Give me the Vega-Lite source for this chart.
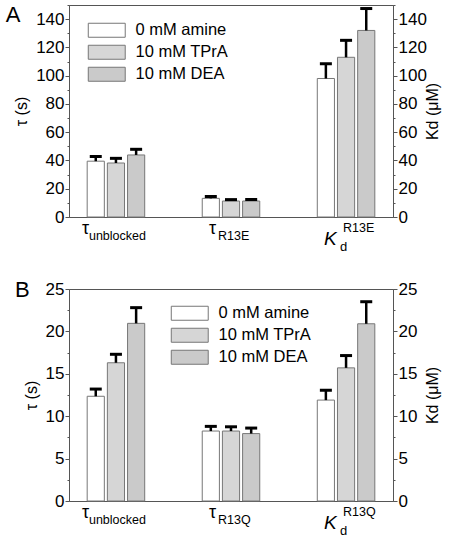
{
  "$schema": "https://vega.github.io/schema/vega-lite/v6.json",
  "padding": {"left": 5, "top": 3, "right": 4, "bottom": 0},
  "spacing": 23,
  "resolve": {"scale": {"y": "independent", "fill": "independent"}, "legend": {"fill": "independent"}},
  "config": {
    "font": "Liberation Sans",
    "view": {"stroke": "#555", "strokeWidth": 1},
    "axis": {"grid": false, "domainColor": "#555", "tickColor": "#555", "labelColor": "#000", "titleColor": "#000", "labelFontSize": 17, "titleFontSize": 16, "titleFontWeight": "normal", "labelPadding": 1, "labelFont": "Liberation Sans", "titleFont": "Liberation Sans"},
    "legend": {"orient": "none", "title": null, "symbolType": "M-2.64,-1H2.64V1H-2.64Z", "symbolSize": 196, "labelOffset": 20.5, "labelFontSize": 16.5, "labelFont": "Liberation Sans", "labelColor": "#000", "rowPadding": 3, "symbolStrokeColor": "#777", "symbolStrokeWidth": 1, "padding": 0, "labelLimit": 300},
    "title": {"fontWeight": "normal", "fontSize": 22, "color": "#000", "font": "Liberation Sans"},
    "text": {"color": "#000", "font": "Liberation Sans"}
  },
  "vconcat": [
    {
      "width": 324, "height": 212,
      "title": {"text": "A", "anchor": "start", "frame": "bounds", "offset": -22, "dx": -8},
      "data": {"values": [
        {"cat": "tu", "series": "0 mM amine", "value": 39.5, "upper": 42.8},
        {"cat": "tu", "series": "10 mM TPrA", "value": 38.2, "upper": 41.5},
        {"cat": "tu", "series": "10 mM DEA", "value": 43.9, "upper": 47.9},
        {"cat": "tr", "series": "0 mM amine", "value": 13.2, "upper": 14.5},
        {"cat": "tr", "series": "10 mM TPrA", "value": 11.3, "upper": 12.3},
        {"cat": "tr", "series": "10 mM DEA", "value": 11.3, "upper": 12.4},
        {"cat": "kd", "series": "0 mM amine", "value": 98, "upper": 108.5},
        {"cat": "kd", "series": "10 mM TPrA", "value": 113, "upper": 125},
        {"cat": "kd", "series": "10 mM DEA", "value": 132, "upper": 147.5}
      ]},
      "resolve": {"axis": {"y": "independent"}},
      "layer": [
        {
          "mark": {"type": "bar", "stroke": "#777", "strokeWidth": 1},
          "encoding": {
            "x": {"field": "cat", "type": "nominal", "scale": {"domain": ["tu", "tr", "kd"], "paddingInner": 0.5, "paddingOuter": 0.158}, "axis": null},
            "xOffset": {"field": "series", "type": "nominal", "scale": {"domain": ["0 mM amine", "10 mM TPrA", "10 mM DEA"], "paddingInner": 0.15, "paddingOuter": 0}},
            "y": {"field": "value", "type": "quantitative", "scale": {"domain": [0, 150], "nice": false},
              "axis": {"orient": "left", "title": "τ (s)", "titlePadding": 6, "values": [0,10,20,30,40,50,60,70,80,90,100,110,120,130,140,150], "labelExpr": "datum.value % 20 == 0 && datum.value <= 140 ? datum.label : ''", "tickSize": {"condition": {"test": "datum.value % 20 != 0", "value": 2}, "value": 4}}},
            "fill": {"field": "series", "type": "nominal", "scale": {"domain": ["0 mM amine", "10 mM TPrA", "10 mM DEA"], "range": ["#ffffff", "#d6d6d6", "#cacaca"]}, "legend": {"legendX": 29.5, "legendY": 17}}
          }
        },
        {
          "mark": {"type": "rule", "color": "#000", "strokeWidth": 2.5},
          "encoding": {
            "x": {"field": "cat", "type": "nominal", "scale": {"domain": ["tu", "tr", "kd"], "paddingInner": 0.5, "paddingOuter": 0.158}, "axis": null},
            "xOffset": {"field": "series", "type": "nominal", "scale": {"domain": ["0 mM amine", "10 mM TPrA", "10 mM DEA"], "paddingInner": 0.15, "paddingOuter": 0}},
            "y": {"field": "value", "type": "quantitative", "scale": {"domain": [0, 150], "nice": false},
              "axis": {"orient": "right", "title": "Kd (μM)", "titleAngle": 270, "titleBaseline": "top", "titlePadding": -2, "values": [0,10,20,30,40,50,60,70,80,90,100,110,120,130,140,150], "labelExpr": "datum.value % 20 == 0 && datum.value <= 140 ? datum.label : ''", "tickSize": {"condition": {"test": "datum.value % 20 != 0", "value": 2}, "value": 4}}},
            "y2": {"field": "upper"}
          }
        },
        {
          "mark": {"type": "tick", "color": "#000", "thickness": 3, "size": 12, "opacity": 1},
          "encoding": {
            "x": {"field": "cat", "type": "nominal", "scale": {"domain": ["tu", "tr", "kd"], "paddingInner": 0.5, "paddingOuter": 0.158}, "axis": null},
            "xOffset": {"field": "series", "type": "nominal", "scale": {"domain": ["0 mM amine", "10 mM TPrA", "10 mM DEA"], "paddingInner": 0.15, "paddingOuter": 0}},
            "y": {"field": "upper", "type": "quantitative", "scale": {"domain": [0, 150], "nice": false}, "axis": null}
          }
        },
        {
          "data": {"values": [{"cat": "tu", "t": "τ"}]},
          "mark": {"type": "text", "align": "left", "baseline": "alphabetic", "dx": -34, "dy": 17, "fontSize": 18},
          "encoding": {"x": {"field": "cat", "type": "nominal", "axis": null}, "y": {"datum": 0, "type": "quantitative", "axis": null}, "text": {"field": "t"}}
        },
        {
          "data": {"values": [{"cat": "tu", "t": "unblocked"}]},
          "mark": {"type": "text", "align": "left", "baseline": "alphabetic", "dx": -27, "dy": 23, "fontSize": 12.5},
          "encoding": {"x": {"field": "cat", "type": "nominal", "axis": null}, "y": {"datum": 0, "type": "quantitative", "axis": null}, "text": {"field": "t"}}
        },
        {
          "data": {"values": [{"cat": "tr", "t": "τ"}]},
          "mark": {"type": "text", "align": "left", "baseline": "alphabetic", "dx": -22, "dy": 17, "fontSize": 18},
          "encoding": {"x": {"field": "cat", "type": "nominal", "axis": null}, "y": {"datum": 0, "type": "quantitative", "axis": null}, "text": {"field": "t"}}
        },
        {
          "data": {"values": [{"cat": "tr", "t": "R13E"}]},
          "mark": {"type": "text", "align": "left", "baseline": "alphabetic", "dx": -13, "dy": 23, "fontSize": 12.5},
          "encoding": {"x": {"field": "cat", "type": "nominal", "axis": null}, "y": {"datum": 0, "type": "quantitative", "axis": null}, "text": {"field": "t"}}
        },
        {
          "data": {"values": [{"cat": "kd", "t": "K"}]},
          "mark": {"type": "text", "align": "left", "baseline": "alphabetic", "dx": -22, "dy": 28, "fontSize": 19, "fontStyle": "italic"},
          "encoding": {"x": {"field": "cat", "type": "nominal", "axis": null}, "y": {"datum": 0, "type": "quantitative", "axis": null}, "text": {"field": "t"}}
        },
        {
          "data": {"values": [{"cat": "kd", "t": "d"}]},
          "mark": {"type": "text", "align": "left", "baseline": "alphabetic", "dx": -6, "dy": 34, "fontSize": 13},
          "encoding": {"x": {"field": "cat", "type": "nominal", "axis": null}, "y": {"datum": 0, "type": "quantitative", "axis": null}, "text": {"field": "t"}}
        },
        {
          "data": {"values": [{"cat": "kd", "t": "R13E"}]},
          "mark": {"type": "text", "align": "left", "baseline": "alphabetic", "dx": -3, "dy": 15, "fontSize": 12.5},
          "encoding": {"x": {"field": "cat", "type": "nominal", "axis": null}, "y": {"datum": 0, "type": "quantitative", "axis": null}, "text": {"field": "t"}}
        }
      ]
    },
    {
      "width": 324, "height": 212,
      "title": {"text": "B", "anchor": "start", "frame": "bounds", "offset": -22, "dx": -8},
      "data": {"values": [
        {"cat": "tu", "series": "0 mM amine", "value": 12.35, "upper": 13.2},
        {"cat": "tu", "series": "10 mM TPrA", "value": 16.3, "upper": 17.3},
        {"cat": "tu", "series": "10 mM DEA", "value": 20.95, "upper": 22.8},
        {"cat": "tr", "series": "0 mM amine", "value": 8.25, "upper": 8.8},
        {"cat": "tr", "series": "10 mM TPrA", "value": 8.25, "upper": 8.75},
        {"cat": "tr", "series": "10 mM DEA", "value": 7.95, "upper": 8.6},
        {"cat": "kd", "series": "0 mM amine", "value": 11.9, "upper": 13.05},
        {"cat": "kd", "series": "10 mM TPrA", "value": 15.7, "upper": 17.15},
        {"cat": "kd", "series": "10 mM DEA", "value": 20.9, "upper": 23.5}
      ]},
      "resolve": {"axis": {"y": "independent"}},
      "layer": [
        {
          "mark": {"type": "bar", "stroke": "#777", "strokeWidth": 1},
          "encoding": {
            "x": {"field": "cat", "type": "nominal", "scale": {"domain": ["tu", "tr", "kd"], "paddingInner": 0.5, "paddingOuter": 0.158}, "axis": null},
            "xOffset": {"field": "series", "type": "nominal", "scale": {"domain": ["0 mM amine", "10 mM TPrA", "10 mM DEA"], "paddingInner": 0.15, "paddingOuter": 0}},
            "y": {"field": "value", "type": "quantitative", "scale": {"domain": [0, 25], "nice": false},
              "axis": {"orient": "left", "title": "τ (s)", "titlePadding": 6, "values": [0,2.5,5,7.5,10,12.5,15,17.5,20,22.5,25], "labelExpr": "datum.value % 5 == 0 ? datum.label : ''", "tickSize": {"condition": {"test": "datum.value % 5 != 0", "value": 2}, "value": 4}}},
            "fill": {"field": "series", "type": "nominal", "scale": {"domain": ["0 mM amine", "10 mM TPrA", "10 mM DEA"], "range": ["#ffffff", "#d6d6d6", "#cacaca"]}, "legend": {"legendX": 112.5, "legendY": 16}}
          }
        },
        {
          "mark": {"type": "rule", "color": "#000", "strokeWidth": 2.5},
          "encoding": {
            "x": {"field": "cat", "type": "nominal", "scale": {"domain": ["tu", "tr", "kd"], "paddingInner": 0.5, "paddingOuter": 0.158}, "axis": null},
            "xOffset": {"field": "series", "type": "nominal", "scale": {"domain": ["0 mM amine", "10 mM TPrA", "10 mM DEA"], "paddingInner": 0.15, "paddingOuter": 0}},
            "y": {"field": "value", "type": "quantitative", "scale": {"domain": [0, 25], "nice": false},
              "axis": {"orient": "right", "title": "Kd (μM)", "titleAngle": 270, "titleBaseline": "top", "titlePadding": 7.5, "values": [0,2.5,5,7.5,10,12.5,15,17.5,20,22.5,25], "labelExpr": "datum.value % 5 == 0 ? datum.label : ''", "tickSize": {"condition": {"test": "datum.value % 5 != 0", "value": 2}, "value": 4}}},
            "y2": {"field": "upper"}
          }
        },
        {
          "mark": {"type": "tick", "color": "#000", "thickness": 3, "size": 12, "opacity": 1},
          "encoding": {
            "x": {"field": "cat", "type": "nominal", "scale": {"domain": ["tu", "tr", "kd"], "paddingInner": 0.5, "paddingOuter": 0.158}, "axis": null},
            "xOffset": {"field": "series", "type": "nominal", "scale": {"domain": ["0 mM amine", "10 mM TPrA", "10 mM DEA"], "paddingInner": 0.15, "paddingOuter": 0}},
            "y": {"field": "upper", "type": "quantitative", "scale": {"domain": [0, 25], "nice": false}, "axis": null}
          }
        },
        {
          "data": {"values": [{"cat": "tu", "t": "τ"}]},
          "mark": {"type": "text", "align": "left", "baseline": "alphabetic", "dx": -34, "dy": 17, "fontSize": 18},
          "encoding": {"x": {"field": "cat", "type": "nominal", "axis": null}, "y": {"datum": 0, "type": "quantitative", "axis": null}, "text": {"field": "t"}}
        },
        {
          "data": {"values": [{"cat": "tu", "t": "unblocked"}]},
          "mark": {"type": "text", "align": "left", "baseline": "alphabetic", "dx": -27, "dy": 23, "fontSize": 12.5},
          "encoding": {"x": {"field": "cat", "type": "nominal", "axis": null}, "y": {"datum": 0, "type": "quantitative", "axis": null}, "text": {"field": "t"}}
        },
        {
          "data": {"values": [{"cat": "tr", "t": "τ"}]},
          "mark": {"type": "text", "align": "left", "baseline": "alphabetic", "dx": -22, "dy": 17, "fontSize": 18},
          "encoding": {"x": {"field": "cat", "type": "nominal", "axis": null}, "y": {"datum": 0, "type": "quantitative", "axis": null}, "text": {"field": "t"}}
        },
        {
          "data": {"values": [{"cat": "tr", "t": "R13Q"}]},
          "mark": {"type": "text", "align": "left", "baseline": "alphabetic", "dx": -13, "dy": 23, "fontSize": 12.5},
          "encoding": {"x": {"field": "cat", "type": "nominal", "axis": null}, "y": {"datum": 0, "type": "quantitative", "axis": null}, "text": {"field": "t"}}
        },
        {
          "data": {"values": [{"cat": "kd", "t": "K"}]},
          "mark": {"type": "text", "align": "left", "baseline": "alphabetic", "dx": -22, "dy": 28, "fontSize": 19, "fontStyle": "italic"},
          "encoding": {"x": {"field": "cat", "type": "nominal", "axis": null}, "y": {"datum": 0, "type": "quantitative", "axis": null}, "text": {"field": "t"}}
        },
        {
          "data": {"values": [{"cat": "kd", "t": "d"}]},
          "mark": {"type": "text", "align": "left", "baseline": "alphabetic", "dx": -6, "dy": 34, "fontSize": 13},
          "encoding": {"x": {"field": "cat", "type": "nominal", "axis": null}, "y": {"datum": 0, "type": "quantitative", "axis": null}, "text": {"field": "t"}}
        },
        {
          "data": {"values": [{"cat": "kd", "t": "R13Q"}]},
          "mark": {"type": "text", "align": "left", "baseline": "alphabetic", "dx": -3, "dy": 15, "fontSize": 12.5},
          "encoding": {"x": {"field": "cat", "type": "nominal", "axis": null}, "y": {"datum": 0, "type": "quantitative", "axis": null}, "text": {"field": "t"}}
        }
      ]
    }
  ]
}
